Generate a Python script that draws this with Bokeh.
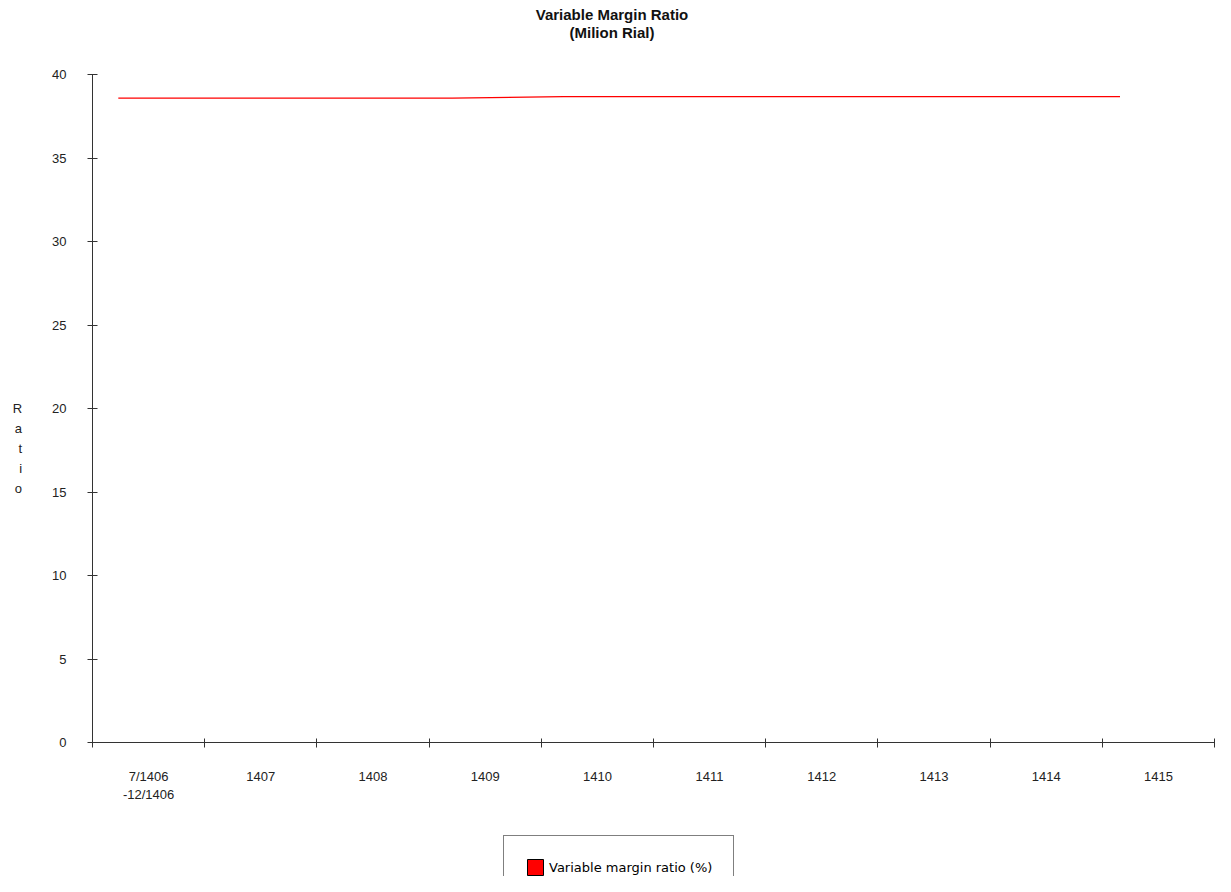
from bokeh.plotting import figure
from bokeh.layouts import column
from bokeh.models import Range1d, FixedTicker, Legend, LegendItem, ColumnDataSource, Div
from bokeh.embed import file_html
from bokeh.resources import INLINE

# ---- data ----
categories = ["7/1406\n-12/1406", "1407", "1408", "1409", "1410",
              "1411", "1412", "1413", "1414", "1415"]
ratio = [38.58, 38.58, 38.58, 38.58, 38.68, 38.68, 38.68, 38.68, 38.68, 38.68]
y_ticks = [0, 5, 10, 15, 20, 25, 30, 35, 40]
series_name = "Variable margin ratio (%)"
title_main = "Variable Margin Ratio"
title_sub = "(Milion Rial)"
y_label_letters = ["R", "a", "t", "i", "o"]

n = len(categories)
centers = [i + 0.5 for i in range(n)]
bounds = list(range(n + 1))
# in the original the line is drawn slightly shifted / compressed relative to the slots
line_x = [0.23 + i * 0.992 for i in range(n)]

FONT = "Liberation Sans"
W = 1215
H_TITLE = 44
H_CHART = 764
H_LEGEND = 68

# ---- title block ----
title = Div(
    text=('<div style="width:1224px;text-align:center;font-family:\'Liberation Sans\';'
          'font-weight:bold;font-size:15px;line-height:18px;color:#111111;padding-top:6px">'
          f'{title_main}<br>{title_sub}</div>'),
    width=W, height=H_TITLE, margin=0)

# ---- chart ----
p = figure(width=W, height=H_CHART, title=None,
           x_range=Range1d(0, n), y_range=Range1d(0, 40),
           output_backend="svg", toolbar_location=None,
           min_border_left=92, min_border_right=1,
           min_border_top=30, min_border_bottom=66)
p.background_fill_color = "white"
p.border_fill_color = "white"
p.outline_line_color = None
p.xgrid.visible = False
p.ygrid.visible = False

# y axis
ya = p.yaxis[0]
ya.ticker = FixedTicker(ticks=y_ticks)
ya.major_tick_in = 5
ya.major_tick_out = 5
ya.minor_tick_line_color = None
ya.axis_line_color = "#333333"
ya.major_tick_line_color = "#333333"
ya.major_label_text_font = FONT
ya.major_label_text_font_size = "13px"
ya.major_label_text_color = "#222222"
ya.major_label_standoff = 21
# stacked letters; leading blank lines push the word below the axis middle
ya.axis_label = "\n" * 4 + "\n".join(y_label_letters)
ya.axis_label_orientation = "horizontal"
ya.axis_label_text_font = FONT
ya.axis_label_text_font_size = "13px"
ya.axis_label_text_font_style = "normal"
ya.axis_label_text_color = "#222222"
ya.axis_label_text_line_height = 1.34
ya.axis_label_standoff = 27

# x axis: labels at slot centres, tick marks at slot boundaries
xa = p.xaxis[0]
xa.ticker = FixedTicker(ticks=centers, minor_ticks=bounds)
xa.major_tick_in = 0
xa.major_tick_out = 0
xa.major_tick_line_color = None
xa.minor_tick_in = 4
xa.minor_tick_out = 5
xa.minor_tick_line_color = "#333333"
xa.axis_line_color = "#333333"
xa.major_label_overrides = {c: lab for c, lab in zip(centers, categories)}
xa.major_label_text_font = FONT
xa.major_label_text_font_size = "13px"
xa.major_label_text_color = "#222222"
xa.major_label_text_line_height = 1.2
xa.major_label_standoff = 21

# series
src = ColumnDataSource(dict(x=line_x, y=ratio))
p.line("x", "y", source=src, line_color="#ff0000", line_width=1.3)

# ---- legend strip below the chart ----
q = figure(width=W, height=H_LEGEND, title=None,
           x_axis_type=None, y_axis_type=None,
           output_backend="svg", toolbar_location=None,
           min_border_left=0, min_border_right=0,
           min_border_top=0, min_border_bottom=0)
q.outline_line_color = None
q.background_fill_color = "white"
q.border_fill_color = "white"
q.xgrid.visible = False
q.ygrid.visible = False

nan = float("nan")
sw_src = ColumnDataSource(dict(left=[nan], right=[nan], top=[nan], bottom=[nan]))
swatch = q.quad(left="left", right="right", top="top", bottom="bottom",
                source=sw_src, fill_color="#ff0000", line_color="#000000", line_width=1)

legend = Legend(items=[LegendItem(label=series_name, renderers=[swatch])],
                location=(411, -23), orientation="vertical",
                padding=21, margin=0, spacing=0,
                glyph_width=20, glyph_height=20, label_height=20,
                label_standoff=4,
                label_text_font="DejaVu Sans", label_text_font_size="13px",
                label_text_color="#000000",
                border_line_color="#000000", border_line_width=1,
                background_fill_color="white", background_fill_alpha=1)
q.add_layout(legend, "center")

layout = column(title, p, q, spacing=0)
open("out.html", "w").write(file_html(layout, INLINE))
